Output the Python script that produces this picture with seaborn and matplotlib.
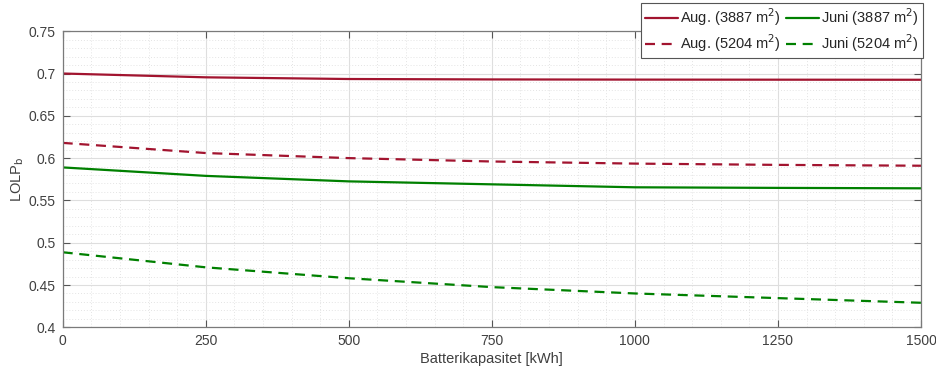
import matplotlib
matplotlib.use("Agg")
import matplotlib.pyplot as plt
from matplotlib.ticker import MultipleLocator
import numpy as np
import pandas as pd
import seaborn as sns

# Battery capacity [kWh]
capacity = [0, 250, 500, 750, 1000, 1250, 1500]

# LOLP_b for each month / PV area
aug_3887 = [0.700, 0.6955, 0.6935, 0.693, 0.6928, 0.6927, 0.6926]
aug_5204 = [0.618, 0.606, 0.600, 0.596, 0.5935, 0.592, 0.591]
juni_3887 = [0.589, 0.579, 0.5725, 0.569, 0.5655, 0.5648, 0.5643]
juni_5204 = [0.4887, 0.4709, 0.458, 0.4475, 0.440, 0.4345, 0.429]

labels = ["Aug. (3887 m$^2$)", "Aug. (5204 m$^2$)",
          "Juni (3887 m$^2$)", "Juni (5204 m$^2$)"]
series = [aug_3887, aug_5204, juni_3887, juni_5204]
colors = ["#A2142F", "#A2142F", "#008000", "#008000"]
dashed = [False, True, False, True]

sns.set_theme(style="white")
plt.rcParams["font.family"] = ["Liberation Sans", "DejaVu Sans"]

fig, ax = plt.subplots(figsize=(9.36, 3.69), dpi=100)
fig.subplots_adjust(left=0.067, right=0.984, top=0.9154, bottom=0.113)

for vals, lab, col, dsh in zip(series, labels, colors, dashed):
    df = pd.DataFrame({"kap": capacity, "lolp": vals})
    line = sns.lineplot(data=df, x="kap", y="lolp", ax=ax, color=col,
                        linewidth=1.6, label=lab).lines[-1]
    if dsh:
        line.set_dashes((4.5, 3.0))

ax.set_xlim(0, 1500)
ax.set_ylim(0.4, 0.75)
ax.xaxis.set_major_locator(MultipleLocator(250))
ax.xaxis.set_minor_locator(MultipleLocator(50))
ax.yaxis.set_minor_locator(MultipleLocator(0.01))
ax.set_yticks(np.arange(0.4, 0.7501, 0.05))
ax.set_yticklabels(["0.4", "0.45", "0.5", "0.55", "0.6", "0.65", "0.7", "0.75"])

ax.grid(which="major", color="#dedede", linewidth=0.8, linestyle="-")
ax.grid(which="minor", color="#e4e4e4", linewidth=0.7, linestyle=(0, (1, 2)))
ax.set_axisbelow(True)

for sp in ax.spines.values():
    sp.set_color("#7a7a7a")
    sp.set_linewidth(0.9)

ax.tick_params(which="major", direction="in", length=5, width=0.8,
               color="#555555", top=True, right=True, bottom=True, left=True,
               labelsize=10, labelcolor="#404040", pad=5)
ax.tick_params(which="minor", length=0, top=True, right=True)

ax.set_xlabel("Batterikapasitet [kWh]", fontsize=10.5, color="#404040", labelpad=3)
ax.set_ylabel("LOLP$_{\\rm b}$", fontsize=10.5, color="#404040", labelpad=2)

leg = ax.legend(ncol=2, loc="upper right", bbox_to_anchor=(1.002, 1.096),
                fontsize=10.5, frameon=True, fancybox=False, handlelength=2.3,
                handletextpad=0.15, columnspacing=0.3, borderpad=0.25,
                labelspacing=0.3, borderaxespad=0.0)
leg.get_frame().set_edgecolor("#555555")
leg.get_frame().set_linewidth(0.8)
leg.get_frame().set_facecolor("white")
leg.get_frame().set_alpha(1.0)
for h, dsh in zip(leg.get_lines(), dashed):
    if dsh:
        h.set_dashes((4.5, 3.0))

fig.savefig("out.png", dpi=100)
